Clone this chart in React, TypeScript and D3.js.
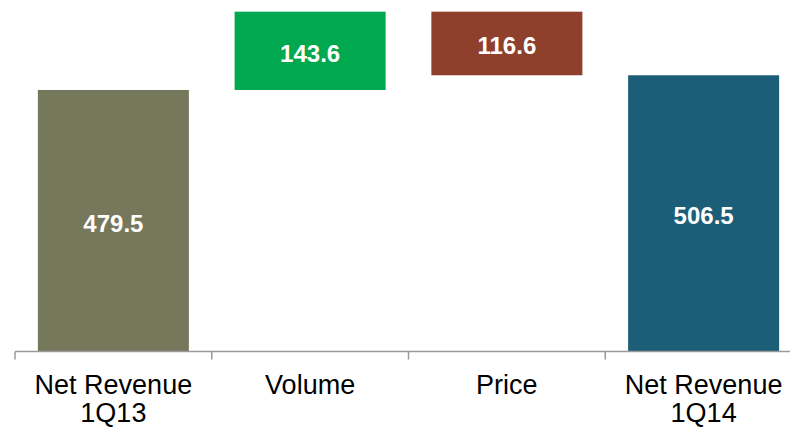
import React from "react";
import * as d3 from "d3";

const categories = ["Net Revenue 1Q13", "Volume", "Price", "Net Revenue 1Q14"];
const labelLines = [["Net Revenue", "1Q13"], ["Volume"], ["Price"], ["Net Revenue", "1Q14"]];
const values = [479.5, 143.6, -116.6, 506.5];
const kinds = ["total", "delta", "delta", "total"];
const colors = ["#76785B", "#00A850", "#8E402D", "#1C5E78"];

const W = 790;
const H = 428;

export default function App() {
  const baseY = 351.5;
  const y = d3.scaleLinear().domain([0, 644.5]).range([baseY, 0]);
  const x = d3
    .scaleBand<string>()
    .domain(categories)
    .range([15, 802])
    .paddingInner(0.2325)
    .paddingOuter(0.11625);
  const step = x.step();

  let running = 0;
  const bars = categories.map((c, i) => {
    let lo: number, hi: number;
    if (kinds[i] === "total") {
      lo = 0;
      hi = values[i];
      running = values[i];
    } else {
      const start = running;
      const end = running + values[i];
      lo = Math.min(start, end);
      hi = Math.max(start, end);
      running = end;
    }
    return { c, i, lo, hi, label: Math.abs(values[i]).toFixed(1) };
  });

  const ticks = d3.range(categories.length + 1).map((i) => 15 + i * step);

  return (
    <div style={{ position: "fixed", left: 0, top: 0, width: W, height: H, background: "#fff" }}>
      <svg width={W} height={H} style={{ display: "block", fontFamily: "Arial, 'Liberation Sans', sans-serif" }}>
        {bars.map((b) => {
          const x0 = x(b.c)!;
          const yTop = y(b.hi);
          const yBot = y(b.lo);
          const mid = (yTop + yBot) / 2;
          return (
            <g key={b.c}>
              <rect x={x0} y={yTop} width={x.bandwidth()} height={yBot - yTop} fill={colors[b.i]} />
              <text
                x={x0 + x.bandwidth() / 2}
                y={mid + 11}
                textAnchor="middle"
                fill="#fff"
                fontWeight="bold"
                fontSize={24}
              >
                {b.label}
              </text>
            </g>
          );
        })}
        <line x1={15} x2={W} y1={baseY} y2={baseY} stroke="#9a9a9a" strokeWidth={1.5} />
        {ticks.map((t, i) => (
          <line key={i} x1={t} x2={t} y1={baseY} y2={baseY + 8} stroke="#9a9a9a" strokeWidth={1.5} />
        ))}
        {categories.map((c, i) => {
          const cx = x(c)! + x.bandwidth() / 2;
          return (
            <text key={c} x={cx} textAnchor="middle" fontSize={27} fill="#000">
              {labelLines[i].map((ln, j) => (
                <tspan key={j} x={cx} y={393.5 + j * 28.5}>
                  {ln}
                </tspan>
              ))}
            </text>
          );
        })}
      </svg>
    </div>
  );
}
